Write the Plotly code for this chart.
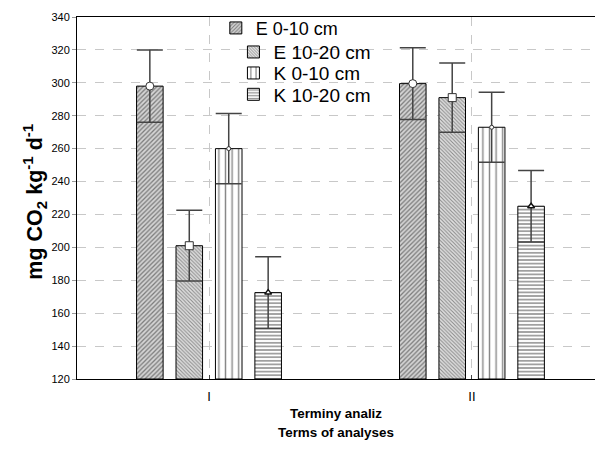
import plotly.graph_objects as go

categories = ["I", "II"]
series_names = ["E 0-10 cm", "E 10-20 cm", "K 0-10 cm", "K 10-20 cm"]
e_0_10 = [298, 299.5]
e_10_20 = [201, 291]
k_0_10 = [260, 273]
k_10_20 = [172.5, 225]
err_e_0_10 = [22, 21.8]
err_e_10_20 = [21.5, 21]
err_k_0_10 = [21.3, 21.2]
err_k_10_20 = [21.8, 21.7]
y_ticks = [120, 140, 160, 180, 200, 220, 240, 260, 280, 300, 320, 340]

values = [e_0_10, e_10_20, k_0_10, k_10_20]
errors = [err_e_0_10, err_e_10_20, err_k_0_10, err_k_10_20]

patterns = [
    dict(shape="/", size=3.2, solidity=0.4, fgcolor="#222222", bgcolor="#d4d4d4", fillmode="overlay"),
    dict(shape="\\", size=2.6, solidity=0.4, fgcolor="#333333", bgcolor="#e0e0e0", fillmode="overlay"),
    dict(shape="|", size=6.6, solidity=0.22, fgcolor="#111111", bgcolor="white", fillmode="overlay"),
    dict(shape="-", size=3.6, solidity=0.4, fgcolor="#111111", bgcolor="white", fillmode="overlay"),
]
markers = [
    dict(symbol="circle", size=8, color="white", line=dict(color="#333", width=1)),
    dict(symbol="square", size=8, color="white", line=dict(color="#333", width=1)),
    dict(symbol="circle", size=4, color="white", line=dict(color="#333", width=1)),
    dict(symbol="triangle-up", size=6, color="white", line=dict(color="#111", width=1.5)),
]
legend_ids = ["legend", "legend2", "legend3", "legend4"]
legend_x = [0.268, 0.302, 0.302, 0.302]
legend_y = [0.969, 0.903, 0.845, 0.786]

step = 0.15
width = 0.101
fig = go.Figure()
for i, (name, vals, errs) in enumerate(zip(series_names, values, errors)):
    xs = [c + (i - 1.5) * step for c in range(len(categories))]
    fig.add_trace(go.Bar(
        x=xs, y=[v - 120 for v in vals], base=120, width=width, name=name,
        legend=legend_ids[i],
        marker=dict(color="white", pattern=patterns[i], line=dict(color="black", width=1)),
        error_y=dict(type="data", array=errs, visible=True, color="#444444", thickness=1.5, width=13),
    ))
for i, vals in enumerate(values):
    xs = [c + (i - 1.5) * step for c in range(len(categories))]
    fig.add_trace(go.Scatter(x=xs, y=vals, mode="markers", marker=markers[i],
                             showlegend=False, hoverinfo="skip"))

legend_layouts = {}
for i, lid in enumerate(legend_ids):
    legend_layouts[lid] = dict(
        x=legend_x[i], y=legend_y[i], xanchor="left", yanchor="middle",
        bgcolor="rgba(0,0,0,0)", font=dict(size=19 if i else 18, color="black"),
        itemwidth=30,
    )

fig.update_layout(
    width=595, height=450,
    margin=dict(l=77, r=0, t=17, b=71, autoexpand=False),
    paper_bgcolor="white", plot_bgcolor="white",
    barmode="overlay",
    font=dict(family="Liberation Sans, Arial", color="black", size=11),
    showlegend=True,
    annotations=[
        dict(text="<b>mg CO<sub>2</sub> kg<sup>-1</sup> d<sup>-1</sup></b>", textangle=-90,
             xref="paper", yref="paper", x=-0.081, y=0.49, xanchor="center", yanchor="middle",
             showarrow=False, font=dict(size=21.5)),
        dict(text="<b>Terminy analiz</b>", xref="paper", yref="paper", x=0.5, y=-0.095,
             xanchor="center", yanchor="middle", showarrow=False, font=dict(size=13.4)),
        dict(text="<b>Terms of analyses</b>", xref="paper", yref="paper", x=0.5, y=-0.147,
             xanchor="center", yanchor="middle", showarrow=False, font=dict(size=13.4)),
    ],
    **legend_layouts,
)
fig.update_xaxes(
    range=[-0.502, 1.468], tickvals=[0, 1], ticktext=categories,
    showline=True, linecolor="black", linewidth=1, mirror=True,
    showgrid=True, gridcolor="#c8c8c8", griddash="dash", gridwidth=1,
    ticks="inside", ticklen=4, tickcolor="#444", tickfont=dict(size=13, color="black"),
    ticklabelstandoff=5,
    automargin=False, zeroline=False,
)
fig.update_yaxes(
    range=[120, 340], tickvals=y_ticks,
    showline=True, linecolor="black", linewidth=1, mirror=True,
    showgrid=True, gridcolor="#c8c8c8", griddash="dash", gridwidth=1,
    ticks="outside", ticklen=4, tickcolor="#999", tickfont=dict(size=11, color="black"),
    automargin=False, zeroline=False,
)
fig.write_html("out.html", config={"displayModeBar": False},
               post_script="document.body.style.margin='0';document.body.style.overflow='hidden';")
